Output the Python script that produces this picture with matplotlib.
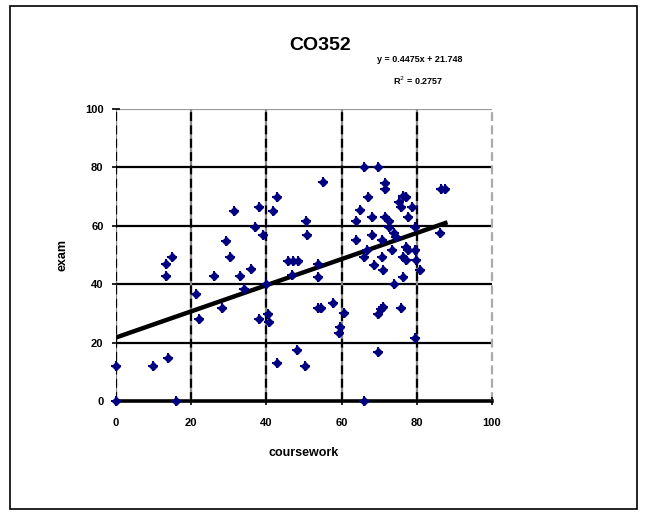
import matplotlib
matplotlib.use("Agg")
import matplotlib.pyplot as plt
from matplotlib.patches import Rectangle

plt.rcParams['font.family'] = ['Liberation Sans', 'DejaVu Sans']

# coursework / exam marks
coursework = [
    0, 0, 9.9, 13.9, 15.9, 13.3, 13.3, 14.8,
    21.2, 22.1, 26, 28.1, 29.2, 30.2, 31.3, 32.9, 34, 36, 37, 38.1, 39.2, 40, 38, 40.3, 40.6,
    41.8, 42.9, 42.9, 48.2, 50.2, 50.4, 50.8, 45.7, 47, 48.4, 46.9, 53.8, 53.8, 55,
    53.8, 54.5, 57.8, 59.2, 59.5,
    60.7, 66, 69.8, 71.5, 71.5, 67, 65, 63.8, 68, 71.5, 72.5, 72.7, 76.2, 77.1, 75.3,
    75.9, 78.8, 77.7, 79.6, 63.8, 68, 70.7, 66.8, 74, 74.4, 73.3, 77.2, 77.6, 79.6,
    66, 70.7, 68.7, 70.9, 76.2, 77.1, 79.9, 80.8, 76.2, 74, 69.8, 70.5, 70.9, 75.9,
    79.6, 69.8, 66,
    86.2, 86.4, 87.6,
]
exam = [
    12, 0, 12, 14.8, 0, 42.8, 46.8, 49.4,
    36.6, 28, 42.8, 31.8, 54.9, 49.4, 65.2, 42.8, 38.2, 45.1, 59.7, 66.5, 57, 40, 28, 29.8, 27,
    65.2, 70, 12.9, 17.5, 12, 61.7, 56.8, 48, 48, 48, 43, 47, 42.6, 74.9,
    32, 32, 33.5, 23.2, 25.2,
    30, 80.2, 80.2, 74.5, 72.5, 70, 65.3, 61.7, 63.1, 63.1, 61.7, 59.7, 70.2, 70, 68.3,
    66.5, 66.5, 63.1, 59.7, 55.1, 56.8, 55.1, 51.7, 57.4, 56, 51.7, 52.8, 51.7, 51.7,
    49.4, 49.4, 46.6, 44.9, 49.4, 48.3, 48.3, 44.9, 42.6, 40, 29.8, 31.4, 32.1, 32,
    21.5, 16.9, 0,
    57.4, 72.6, 72.6,
]

# trendline as printed on the chart
slope = 0.4475
intercept = 21.748
r_squared = 0.2757

ticks = [0, 20, 40, 60, 80, 100]

fig = plt.figure(figsize=(6.45, 5.14), dpi=100)
fig.patches.append(Rectangle((10 / 645, 5 / 514), 627 / 645, 503 / 514,
                             transform=fig.transFigure, fill=False,
                             edgecolor='black', lw=1.2))

ax = fig.add_axes([116 / 645, 1 - 401 / 514, 376 / 645, 292 / 514])
ax.set_xlim(0, 100)
ax.set_ylim(0, 100)

for s in ax.spines.values():
    s.set_visible(False)

# horizontal grid
for v in ticks[1:-1]:
    ax.axhline(v, color='black', lw=1.6, zorder=1)
ax.axhline(100, color='#999999', lw=1.6, zorder=1)
ax.axhline(0, color='black', lw=2.6, zorder=1, clip_on=False)

# vertical grid: black/grey dashed look
for v in ticks[:-1]:
    ax.axvline(v, color='#888888', lw=1.6, zorder=1)
    ax.axvline(v, color='black', lw=1.6, ls=(0, (4, 2)), zorder=1)
ax.axvline(100, color='#aaaaaa', lw=1.6, ls=(0, (4, 2)), zorder=1, clip_on=False)

ax.set_xticks(ticks)
ax.set_yticks(ticks)
ax.tick_params(direction='inout', length=6, width=1.2, colors='black',
               labelsize=8, pad=9)
ax.tick_params(axis='y', pad=6)
for lab in ax.get_xticklabels() + ax.get_yticklabels():
    lab.set_fontweight('bold')

xmin, xmax = min(coursework), max(coursework)
ax.plot([xmin, xmax], [slope * xmin + intercept, slope * xmax + intercept],
        color='black', lw=3.2, zorder=3)

ax.plot(coursework, exam, ls='none', marker='D', ms=4.2, color='#000080',
        zorder=4, clip_on=False)
ax.plot(coursework, exam, ls='none', marker='+', ms=6.5, mew=1.5, color='#000080',
        zorder=4, clip_on=False)

ax.set_xlabel('coursework', fontsize=9, fontweight='bold', labelpad=14)
ax.set_ylabel('exam', fontsize=9, fontweight='bold', labelpad=12)

fig.text(320 / 645, 1 - 45 / 514, 'CO352', ha='center', va='center',
         fontsize=14, fontweight='bold')
fig.text(420 / 645, 1 - 60 / 514, f'y = {slope}x + {intercept}', ha='center',
         va='center', fontsize=6.5, fontweight='bold')
fig.text(418 / 645, 1 - 81 / 514, f'R$^2$ = {r_squared}', ha='center',
         va='center', fontsize=6.5, fontweight='bold')

fig.savefig('out.png', dpi=100)
